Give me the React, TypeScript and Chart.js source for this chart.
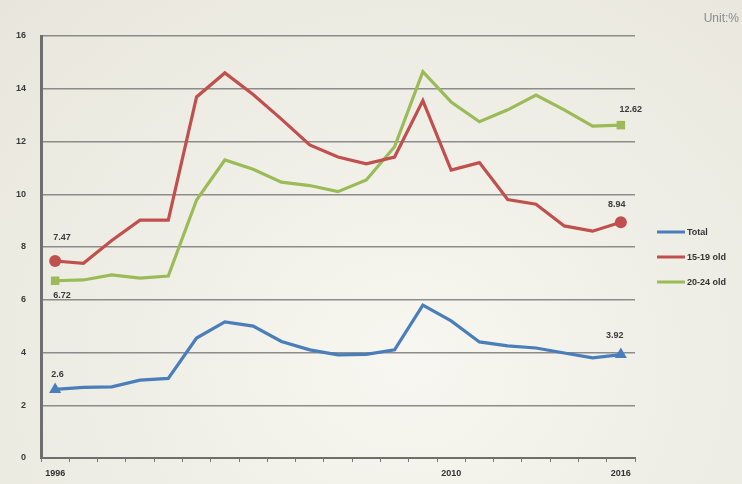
import React, { useEffect, useRef } from "react";
import { Chart, registerables } from "chart.js";

Chart.register(...registerables);

const years = [
  "1996", "1997", "1998", "1999", "2000", "2001", "2002", "2003", "2004", "2005", "2006",
  "2007", "2008", "2009", "2010", "2011", "2012", "2013", "2014", "2015", "2016",
];
const shownYears = ["1996", "2010", "2016"];

const totalValues = [2.6, 2.68, 2.7, 2.95, 3.02, 4.55, 5.16, 5.0, 4.42, 4.1, 3.91, 3.93, 4.1, 5.8, 5.2, 4.4, 4.25, 4.17, 3.98, 3.8, 3.92];
const age1519Values = [7.47, 7.38, 8.25, 9.02, 9.02, 13.69, 14.6, 13.78, 12.85, 11.87, 11.41, 11.15, 11.41, 13.55, 10.92, 11.2, 9.8, 9.62, 8.8, 8.6, 8.94];
const age2024Values = [6.72, 6.75, 6.94, 6.82, 6.9, 9.78, 11.3, 10.95, 10.46, 10.33, 10.1, 10.54, 11.8, 14.65, 13.5, 12.75, 13.2, 13.76, 13.2, 12.58, 12.62];

const seriesNames = ["Total", "15-19 old", "20-24 old"];
const yTicks = [0, 2, 4, 6, 8, 10, 12, 14, 16];
const unitText = "Unit:%";

const colors = ["#4a7ebb", "#c0504d", "#9bbb59"];
const pointStyles = ["triangle", "circle", "rect"];
const pointSizes = [7, 6, 6];
const labelOffsets = [
  { fdy: -15, ldy: -19, fdx: -4, ldx: -6 },
  { fdy: -23, ldy: -18, fdx: -2, ldx: -4 },
  { fdy: 15, ldy: -16, fdx: -2, ldx: 10 },
];

const endLabelsPlugin = {
  id: "endLabels",
  afterDatasetsDraw(chart: any) {
    const ctx = chart.ctx;
    ctx.save();
    ctx.font = "bold 9px 'Liberation Sans', Arial, sans-serif";
    ctx.fillStyle = "#3a3a3a";
    ctx.textBaseline = "middle";
    chart.data.datasets.forEach((ds: any, i: number) => {
      const meta = chart.getDatasetMeta(i);
      const n = meta.data.length;
      const first = meta.data[0];
      const last = meta.data[n - 1];
      const o = labelOffsets[i];
      ctx.textAlign = "left";
      ctx.fillText(String(ds.data[0]), first.x + o.fdx, first.y + o.fdy);
      ctx.textAlign = "center";
      ctx.fillText(String(ds.data[n - 1]), last.x + o.ldx, last.y + o.ldy);
    });
    const lx = 657;
    const ly = [232, 257, 282];
    ctx.textAlign = "left";
    seriesNames.forEach((name, i) => {
      ctx.strokeStyle = colors[i];
      ctx.lineWidth = 3;
      ctx.beginPath();
      ctx.moveTo(lx, ly[i]);
      ctx.lineTo(lx + 28, ly[i]);
      ctx.stroke();
      ctx.fillStyle = "#333333";
      ctx.fillText(name, lx + 30, ly[i] + 0.5);
    });
    ctx.font = "12px 'Liberation Sans', Arial, sans-serif";
    ctx.fillStyle = "#8a8a8a";
    ctx.textAlign = "right";
    ctx.fillText(unitText, 739, 19);
    ctx.restore();
  },
};

export default function App() {
  const ref = useRef<HTMLCanvasElement>(null);
  useEffect(() => {
    document.body.style.margin = "0";
    const values = [totalValues, age1519Values, age2024Values];
    const chart = new Chart(ref.current as HTMLCanvasElement, {
      type: "line",
      data: {
        labels: years,
        datasets: values.map((v, i) => ({
          label: seriesNames[i],
          data: v,
          borderColor: colors[i],
          backgroundColor: colors[i],
          borderWidth: 3.2,
          tension: 0,
          pointStyle: pointStyles[i] as any,
          pointRadius: (c: any) => (c.dataIndex === 0 || c.dataIndex === v.length - 1 ? pointSizes[i] : 0),
          pointBorderWidth: 0,
          pointHoverRadius: 0,
        })),
      },
      options: {
        animation: false,
        responsive: false,
        events: [],
        layout: { padding: { left: 0, right: 107, top: 36, bottom: 0 } },
        plugins: { legend: { display: false }, tooltip: { enabled: false } },
        scales: {
          x: {
            type: "category",
            offset: true,
            grid: {
              display: true,
              drawOnChartArea: false,
              drawTicks: true,
              tickLength: 4,
              color: "#777777",
              lineWidth: 1,
              offset: true,
            },
            border: { display: true, color: "#6e6e6e", width: 2 },
            ticks: {
              autoSkip: false,
              maxRotation: 0,
              padding: 6,
              color: "#333333",
              font: { size: 9, weight: "bold", family: "'Liberation Sans', Arial, sans-serif" },
              callback: (_v: any, idx: number) => (shownYears.includes(years[idx]) ? years[idx] : ""),
            },
            afterFit: (s: any) => {
              s.height = 26;
            },
          },
          y: {
            min: 0,
            max: 16,
            afterBuildTicks: (s: any) => {
              s.ticks = yTicks.map((v) => ({ value: v }));
            },
            grid: {
              color: "#8c8c8c",
              lineWidth: 1.5,
              drawTicks: false,
            },
            border: { display: true, color: "#6e6e6e", width: 3 },
            ticks: {
              padding: 15,
              color: "#3a3a3a",
              font: { size: 9, weight: "bold", family: "'Liberation Sans', Arial, sans-serif" },
            },
            afterFit: (s: any) => {
              s.width = 41;
            },
          },
        },
      },
      plugins: [endLabelsPlugin],
    });
    return () => chart.destroy();
  }, []);
  return (
    <div
      style={{
        position: "fixed",
        left: 0,
        top: 0,
        width: 742,
        height: 484,
        background:
          "radial-gradient(ellipse at 55% 75%, #f7f6f0 0%, #f0efe7 45%, #e8e6dc 100%)",
      }}
    >
      <canvas ref={ref} width={742} height={484} />
    </div>
  );
}
